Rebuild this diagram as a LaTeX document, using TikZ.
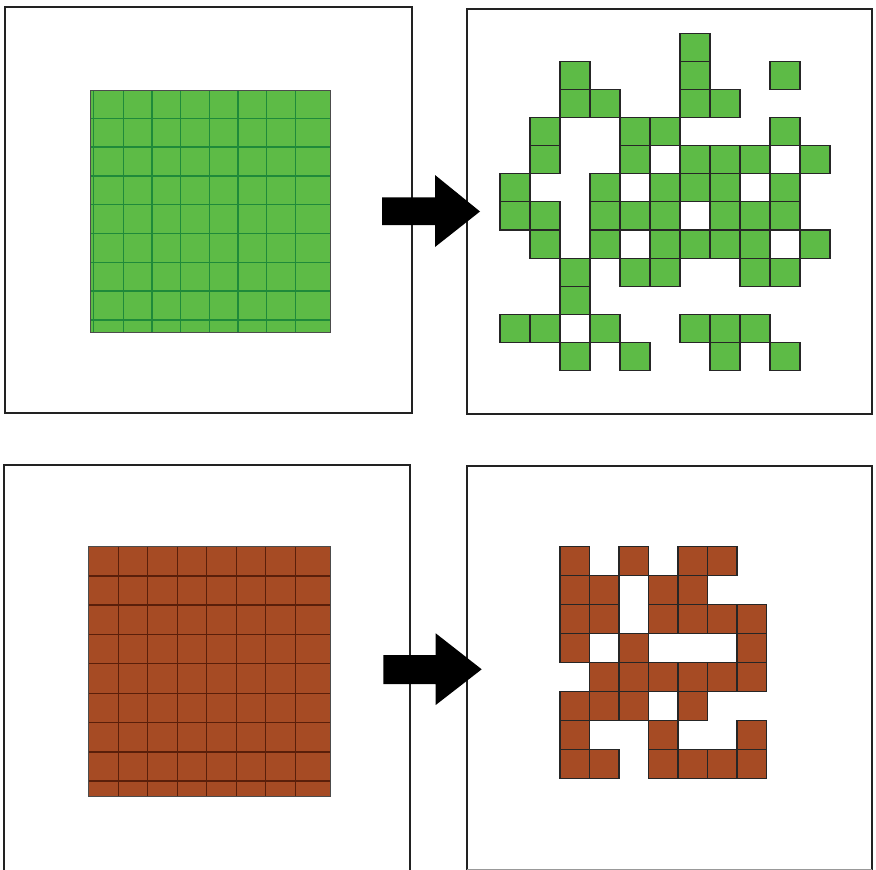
\documentclass[tikz,border=0pt]{standalone}
\definecolor{gfill}{HTML}{5DBB46}
\definecolor{gline}{HTML}{1F8A3A}
\definecolor{bfill}{HTML}{A64B24}
\definecolor{bline}{HTML}{5A1F0A}
\definecolor{frame}{HTML}{222222}
\tikzset{
  panel/.style={draw=frame, line width=1.6pt},
  gcell/.style={fill=gfill, draw=black!85, line width=1.1pt},
  bcell/.style={fill=bfill, draw=black!85, line width=1.1pt},
  blockarrow/.style={fill=black, draw=none},
}
\begin{document}
\begin{tikzpicture}[x=1pt,y=-1pt]
\useasboundingbox (0,0) rectangle (876,870);
\fill[white] (0,0) rectangle (876,870);

% panels
\draw[panel] (5,7) rectangle (412,413);
\draw[panel] (467,9) rectangle (872,414);
\draw[panel] (4,875) -- (4,465) -- (410,465) -- (410,875);
\draw[panel] (467,875) -- (467,466) -- (872,466) -- (872,875);
\draw[draw=black!40, line width=0.8pt] (467,869.3) -- (872,869.3);

% green full grid
\fill[gfill] (90.7,90) rectangle (330,332.3);
\begin{scope}
\clip (90.7,90) rectangle (330,332.3);
\foreach \x in {93.5,123.3,152,180.7,209.3,238,266.7,295.3}
  \draw[gline, line width=1.1pt] (\x,90) -- (\x,332.3);
\foreach \y in {118.3,147,176,204.7,233.3,262.3,291,320}
  \draw[gline, line width=1.1pt] (90.7,\y) -- (330,\y);
\end{scope}
\draw[draw=black!70, line width=0.8pt] (90.7,90) rectangle (330,332.3);

% brown full grid
\fill[bfill] (88.3,546.7) rectangle (330,796);
\begin{scope}
\clip (88.3,546.7) rectangle (330,796);
\foreach \x in {118.3,147.7,177.3,206.7,236.7,265.7,295.3}
  \draw[bline, line width=1.1pt] (\x,546.7) -- (\x,796);
\foreach \y in {576,605,634.3,663.3,693.3,722.7,752,781}
  \draw[bline, line width=1.1pt] (88.3,\y) -- (330,\y);
\end{scope}
\draw[draw=black!70, line width=0.8pt] (88.3,546.7) rectangle (330,796);

% green scattered cells
\foreach \r/\cols in {0/{6},1/{2,6,9},2/{2,3,6,7},3/{1,4,5,9},4/{1,4,6,7,8,10},5/{0,3,5,6,7,9},6/{0,1,3,4,5,7,8,9},7/{1,3,5,6,7,8,10},8/{2,4,5,8,9},9/{2},10/{0,1,3,6,7,8},11/{2,4,7,9}}
  \foreach \c in \cols
    \draw[gcell] ({500+30*\c},{33.3+28.1*\r}) rectangle ++(30,28.1);

% brown scattered cells
\foreach \r/\cols in {0/{0,2,4,5},1/{0,1,3,4},2/{0,1,3,4,5,6},3/{0,2,6},4/{1,2,3,4,5,6},5/{0,1,2,4},6/{0,3,6},7/{0,1,3,4,5,6}}
  \foreach \c in \cols
    \draw[bcell] ({560+29.5*\c},{546.7+29*\r}) rectangle ++(29.5,29);

% block arrows
\fill[blockarrow] (382,197.3) -- (435,197.3) -- (435,175) -- (480,211.5) -- (435,247) -- (435,225) -- (382,225) -- cycle;
\fill[blockarrow] (383.3,655) -- (435.7,655) -- (435.7,633.3) -- (481.7,669.3) -- (435.7,705) -- (435.7,684) -- (383.3,684) -- cycle;
\end{tikzpicture}
\end{document}
